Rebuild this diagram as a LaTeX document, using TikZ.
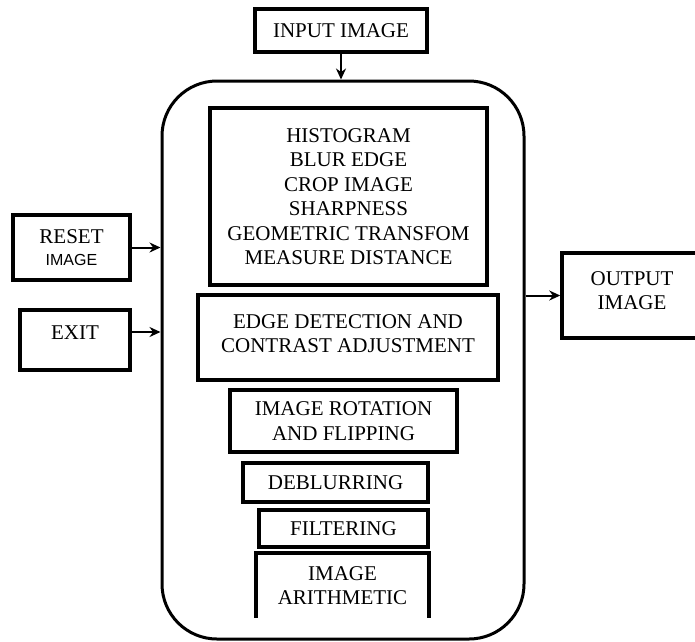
\documentclass[tikz,border=0pt]{standalone}
\usepackage{fontspec}
\setmainfont{Liberation Serif}
\newfontfamily\smallsans{Liberation Sans}
\usetikzlibrary{arrows.meta}
\begin{document}
\begin{tikzpicture}[x=1pt,y=-1pt,
                    line width=2pt,
                    >={Stealth[length=11pt,width=10pt]}]
    \tikzstyle{box}=[draw,line width=3.5pt,align=center,inner sep=2pt,font=\fontsize{21}{24.5}\selectfont]
    \tikzstyle{tool}=[box,line width=4pt]
    \tikzstyle{panel}=[draw,line width=3pt,rounded corners=55pt]
    \useasboundingbox (0,0) rectangle (695,641);

    % main window
    \node[panel,minimum width=362pt,minimum height=558pt] (panel) at (343,360) {};

    \node[box,minimum width=172pt,minimum height=43pt] (input) at (341,30.5) {INPUT IMAGE};
    \node[box,minimum width=117pt,minimum height=65pt] (reset) at (71.5,247.5)
        {RESET\\[-2pt]{\smallsans\fontsize{16}{18}\selectfont IMAGE}};
    \node[box,minimum width=110pt,minimum height=60pt,text depth=14pt] (exit) at (75,340) {EXIT};
    \node[box,minimum width=140pt,minimum height=85pt,text depth=10pt] (output) at (632,295.5) {OUTPUT\\IMAGE};

    % tools inside the window
    \node[tool,minimum width=277pt,minimum height=177pt] (tools) at (348.5,196.5)
        {HISTOGRAM\\BLUR EDGE\\CROP IMAGE\\SHARPNESS\\GEOMETRIC TRANSFOM\\MEASURE DISTANCE};
    \node[tool,minimum width=300pt,minimum height=85pt,text depth=8pt] (edge) at (348,337.5)
        {EDGE DETECTION AND\\CONTRAST ADJUSTMENT};
    \node[tool,minimum width=227pt,minimum height=62pt] (rotate) at (343.5,421)
        {IMAGE ROTATION\\AND FLIPPING};
    \node[tool,minimum width=185pt,minimum height=39pt] (deblur) at (335.5,482.5) {DEBLURRING};
    \node[tool,minimum width=169pt,minimum height=37pt] (filter) at (343.5,528.5) {FILTERING};
    \node[box,draw=none,minimum width=169pt,minimum height=61pt] (arith) at (342.5,585.5)
        {IMAGE\\ARITHMETIC};
    \draw[line width=4pt] (arith.south west) -- (arith.north west) -- (arith.north east) -- (arith.south east);

    % connectors
    \draw[->] (input.south) -- (input.south |- panel.north);
    \draw[->] (reset.east) -- (reset.east -| panel.west);
    \draw[->] ([yshift=8pt]exit.east) -- ([yshift=8pt]exit.east -| panel.west);
    \draw[->] (panel.east |- output.west) -- (output.west);
\end{tikzpicture}
\end{document}
